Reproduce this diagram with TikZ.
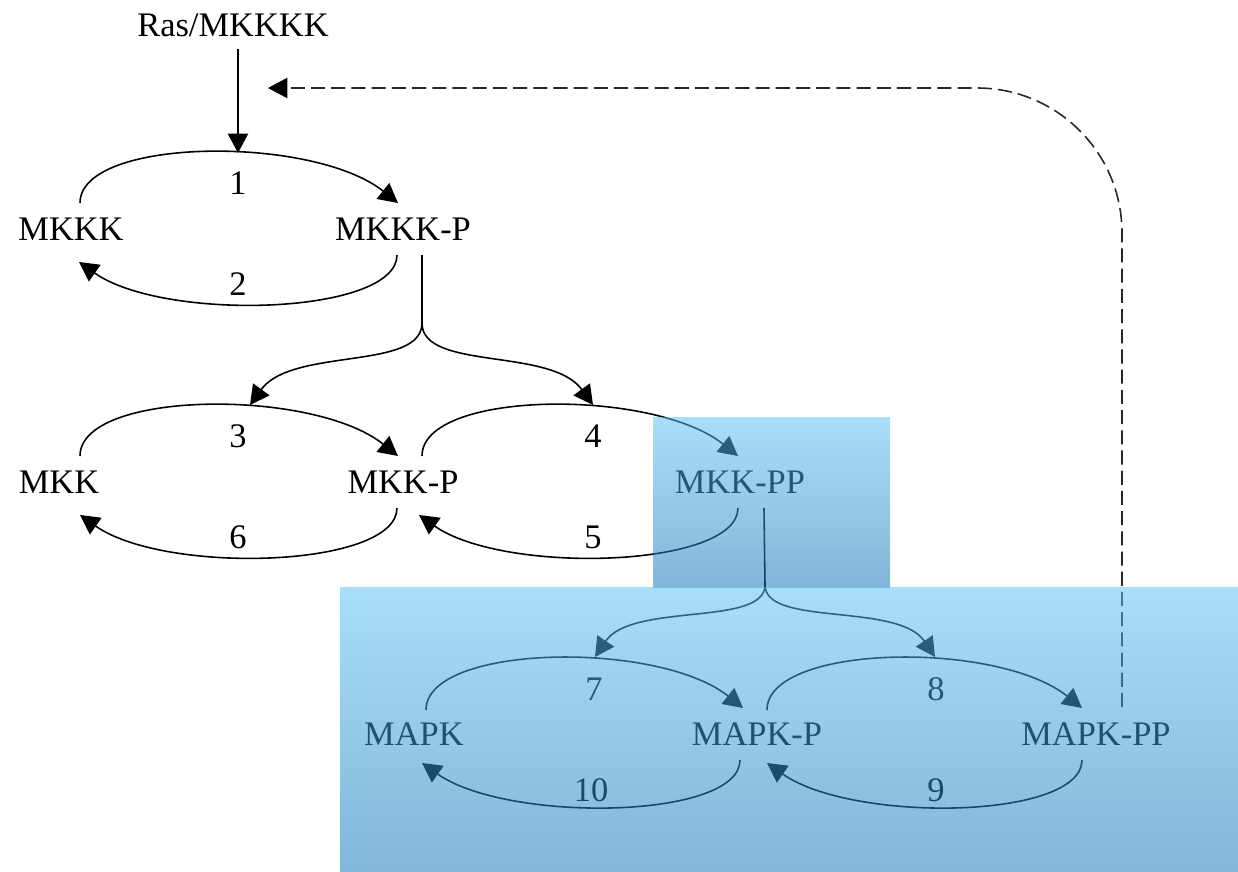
\documentclass[tikz,border=0pt]{standalone}
\usepackage{fontspec}
\setmainfont{Liberation Serif}
\usepackage{tikz}
\usetikzlibrary{arrows.meta, calc}
\definecolor{boxtop}{rgb}{0.36,0.76,0.96}
\definecolor{boxbot}{rgb}{0.07,0.46,0.72}
\tikzstyle{react} = [line width=0.9pt,-{Triangle[length=11pt,width=11.5pt]}]
\tikzstyle{feedback} = [line width=0.9pt,black!85,dash pattern=on 8pt off 3.5pt,rounded corners=2.9cm,-{Triangle[length=11pt,width=11.5pt,color=black]}]
\tikzstyle{cascade} = [top color=boxtop, bottom color=boxbot, fill opacity=0.535]

\begin{document}
\begin{tikzpicture}[x=0.02cm, y=-0.02cm, every node/.style={font=\fontsize{19.6}{23}\selectfont, inner sep=2pt}]
        \useasboundingbox (0,0) rectangle (1238,872);

        % species
        \node (ras) at (233,25) {Ras/MKKKK};
        \node (mkkk) at (71,229) {MKKK};
        \node (mkkkp) at (403,229) {MKKK-P};
        \node (mkk) at (59,482) {MKK};
        \node (mkkp) at (403,482) {MKK-P};
        \node (mkkpp) at (740,482) {MKK-PP};
        \node (mapk) at (414,734) {MAPK};
        \node (mapkp) at (757,734) {MAPK-P};
        \node (mapkpp) at (1096,734) {MAPK-PP};

        % reaction numbers
        \node (n1) at (238,183) {1};
        \node (n2) at (238,284) {2};
        \node (n3) at (238,436) {3};
        \node (n4) at (593,436) {4};
        \node (n5) at (593,537) {5};
        \node (n6) at (238,537) {6};
        \node (n7) at (594,689) {7};
        \node (n8) at (936,689) {8};
        \node (n9) at (936,790) {9};
        \node (n10) at (591,790) {10};

        \coordinate (a1) at (238,153);
        \coordinate (fork1) at (422,323);
        \coordinate (t3) at (250,405);
        \coordinate (t4) at (593,405);
        \coordinate (fork2) at (765,585);
        \coordinate (t7) at (595,657);
        \coordinate (t8) at (935,657);
        \coordinate (fb) at (268,88);

        % MKKK cycle
        \draw[react] ($(ras.south -| a1)+(0,9)$) -- (a1);
        \draw[react] ($(mkkk)+(9,-26)$) .. controls +(0,-66) and +(-85,-68) .. ($(mkkkp)+(-5,-26)$);
        \draw[react] ($(mkkkp)+(-6,26)$) .. controls +(0,60) and +(85,60) .. ($(mkkk)+(8,33)$);

        % MKK cycle
        \draw[line width=0.9pt] ($(mkkkp)+(19,26)$) -- (fork1);
        \draw[react] (fork1) .. controls +(0,48) and +(42,-58) .. (t3);
        \draw[react] (fork1) .. controls +(0,48) and +(-42,-58) .. (t4);
        \draw[react] ($(mkk)+(21,-26)$) .. controls +(0,-66) and +(-85,-68) .. ($(mkkp)+(-5,-26)$);
        \draw[react] ($(mkkp)+(19,-26)$) .. controls +(0,-66) and +(-85,-68) .. ($(mkkpp)+(-2,-26)$);
        \draw[react] ($(mkkpp)+(-2,26)$) .. controls +(0,60) and +(85,60) .. ($(mkkp)+(16,33)$);
        \draw[react] ($(mkkp)+(-6,26)$) .. controls +(0,60) and +(85,60) .. ($(mkk)+(21,33)$);

        % MAPK cycle
        \draw[line width=0.9pt] ($(mkkpp)+(24,26)$) -- (fork2);
        \draw[react] (fork2) .. controls +(0,42) and +(37,-55) .. (t7);
        \draw[react] (fork2) .. controls +(0,42) and +(-37,-55) .. (t8);
        \draw[react] ($(mapk)+(12,-24)$) .. controls +(0,-66) and +(-85,-68) .. ($(mapkp)+(-14,-26)$);
        \draw[react] ($(mapkp)+(10,-24)$) .. controls +(0,-66) and +(-85,-68) .. ($(mapkpp)+(-14,-26)$);
        \draw[react] ($(mapkpp)+(-14,26)$) .. controls +(0,60) and +(85,60) .. ($(mapkp)+(10,29)$);
        \draw[react] ($(mapkp)+(-17,26)$) .. controls +(0,60) and +(85,60) .. ($(mapk)+(8,29)$);

        % feedback
        \draw[feedback] ($(mapkpp)+(26,-27)$) |- (fb);

        % highlight boxes
        \shade[cascade] (653,417) rectangle (890,587);
        \shade[cascade] (340,587) rectangle (1238,872);
      \end{tikzpicture}
\end{document}
